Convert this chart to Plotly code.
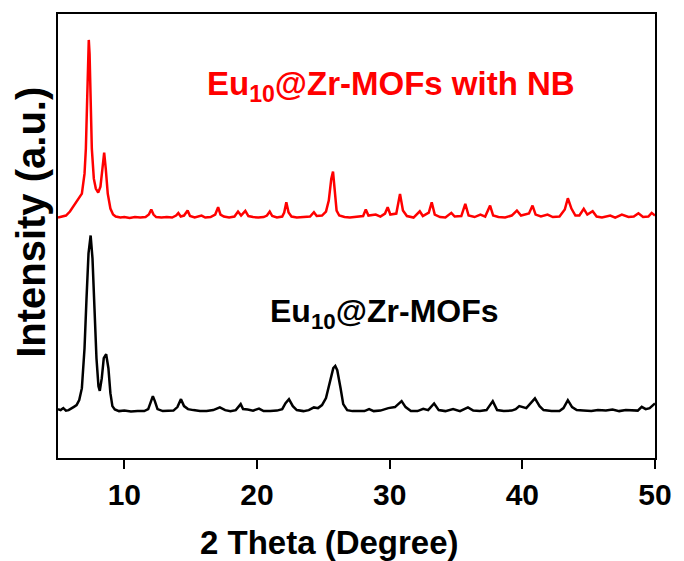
import plotly.graph_objects as go

# ---- data: Eu10@Zr-MOFs with NB (red, offset pattern) ----
red_2theta = [5.0, 5.3, 5.6, 5.9, 6.2, 6.5, 6.8, 7.0, 7.1, 7.2, 7.27, 7.32, 7.38, 7.45, 7.55, 7.7, 7.85, 8.03, 8.2, 8.35, 8.48, 8.6,
              8.75, 8.95, 9.15, 9.35, 9.7, 10.0, 10.4, 10.8, 11.2, 11.6, 11.85, 12.03, 12.2, 12.4, 12.8, 13.2, 13.6, 13.9, 14.07, 14.25,
              14.5, 14.77, 14.95, 15.3, 15.82, 16.1, 16.5, 16.85, 17.07, 17.25, 17.5, 17.9, 18.3, 18.57, 18.8, 19.12, 19.35, 19.7, 20.1, 20.5,
              20.75, 20.96, 21.15, 21.5, 21.9, 22.05, 22.21, 22.38, 22.6, 23.0, 23.5, 24.0, 24.29, 24.5, 24.9, 25.2, 25.41, 25.6, 25.73, 25.85,
              26.0, 26.2, 26.6, 27.0, 27.5, 28.0, 28.2, 28.4, 28.95, 29.3, 29.65, 29.85, 30.05, 30.5, 30.78, 31.0, 31.3, 31.8, 32.27, 32.5,
              32.95, 33.17, 33.4, 33.8, 34.2, 34.65, 34.9, 35.4, 35.7, 35.95, 36.4, 36.84, 37.2, 37.57, 37.8, 38.2, 38.7, 39.2, 39.59, 39.9,
              40.5, 40.77, 41.0, 41.4, 41.9, 42.3, 42.8, 43.2, 43.43, 43.7, 44.0, 44.3, 44.63, 44.9, 45.3, 45.6, 46.0, 46.63, 47.0, 47.5,
              48.0, 48.4, 48.75, 49.1, 49.5, 49.75, 50.0]
red_intensity = [2410, 2420, 2430, 2470, 2530, 2590, 2650, 2850, 3100, 3600, 4050, 4190, 4050, 3600, 3100, 2800, 2700, 2660, 2720, 2900, 3060, 2900,
                 2650, 2500, 2440, 2420, 2410, 2415, 2405, 2415, 2410, 2415, 2440, 2490, 2440, 2415, 2410, 2415, 2410, 2430, 2455, 2420,
                 2430, 2480, 2425, 2410, 2430, 2410, 2415, 2440, 2513, 2440, 2420, 2410, 2420, 2470, 2430, 2477, 2425, 2415, 2410, 2415,
                 2430, 2470, 2425, 2410, 2420, 2460, 2563, 2460, 2420, 2410, 2415, 2420, 2463, 2425, 2430, 2470, 2580, 2800, 2870, 2700,
                 2480, 2430, 2415, 2410, 2420, 2425, 2490, 2430, 2440, 2420, 2450, 2513, 2440, 2450, 2647, 2480, 2425, 2410, 2473, 2425,
                 2460, 2563, 2440, 2415, 2410, 2457, 2420, 2425, 2547, 2430, 2415, 2440, 2420, 2530, 2430, 2415, 2410, 2430, 2480, 2430,
                 2450, 2530, 2440, 2420, 2440, 2415, 2420, 2490, 2603, 2500, 2430, 2430, 2497, 2440, 2473, 2420, 2410, 2430, 2410, 2440,
                 2415, 2420, 2453, 2415, 2420, 2457, 2430]

# ---- data: Eu10@Zr-MOFs (black) ----
black_2theta = [5.0, 5.2, 5.4, 5.6, 5.8, 6.0, 6.2, 6.4, 6.6, 6.8, 7.0, 7.15, 7.3, 7.46, 7.6, 7.75, 7.9, 8.05, 8.15, 8.3,
                8.45, 8.63, 8.8, 8.95, 9.1, 9.28, 9.6, 10.0, 10.5, 11.0, 11.5, 11.8, 12.0, 12.15, 12.3, 12.5, 12.9, 13.3, 13.7, 14.0,
                14.27, 14.5, 14.8, 15.2, 15.7, 16.2, 16.7, 17.2, 17.6, 18.0, 18.4, 18.77, 18.95, 19.3, 19.7, 20.15, 20.5, 21.0, 21.5, 21.9,
                22.15, 22.41, 22.7, 23.0, 23.5, 23.9, 24.29, 24.6, 24.9, 25.2, 25.5, 25.75, 25.9, 26.05, 26.3, 26.5, 26.8, 27.2, 27.7, 28.1,
                28.45, 28.8, 29.3, 29.9, 30.4, 30.9, 31.2, 31.6, 32.1, 32.53, 32.9, 33.35, 33.7, 34.2, 34.78, 35.3, 35.9, 36.3, 36.8, 37.3,
                37.77, 38.1, 38.6, 39.2, 39.5, 39.77, 40.3, 40.6, 40.95, 41.3, 41.6, 42.2, 42.8, 43.1, 43.43, 43.75, 44.1, 44.6, 45.2, 45.7,
                46.3, 46.8, 47.3, 47.8, 48.3, 48.7, 49.0, 49.3, 49.6, 50.0]
black_intensity = [490, 480, 500, 475, 480, 500, 513, 530, 580, 700, 1100, 1600, 2050, 2230, 2000, 1500, 1000, 720, 673, 800,
                   1000, 1040, 900, 650, 520, 487, 470, 475, 465, 470, 470, 490, 560, 620, 570, 490, 470, 470, 475, 510,
                   590, 520, 490, 480, 470, 470, 480, 507, 480, 470, 480, 540, 490, 485, 475, 495, 470, 470, 475, 490,
                   550, 590, 520, 480, 470, 480, 507, 500, 530, 600, 750, 900, 923, 880, 700, 540, 480, 470, 470, 470,
                   490, 470, 475, 500, 510, 570, 510, 470, 470, 493, 480, 547, 480, 470, 490, 470, 507, 475, 470, 480,
                   570, 480, 470, 475, 490, 520, 500, 540, 597, 520, 480, 470, 470, 500, 580, 510, 480, 475, 470, 480,
                   475, 485, 470, 480, 475, 475, 513, 490, 500, 547]

x_ticks = [10, 20, 30, 40, 50]
series_labels = ["Eu<sub>10</sub>@Zr-MOFs with NB", "Eu<sub>10</sub>@Zr-MOFs"]

FONT = "Liberation Sans, Arial, sans-serif"

fig = go.Figure()
fig.add_trace(go.Scatter(x=red_2theta, y=red_intensity, mode="lines",
                         line=dict(color="#ff0000", width=2.5), showlegend=False))
fig.add_trace(go.Scatter(x=black_2theta, y=black_intensity, mode="lines",
                         line=dict(color="#000000", width=2.5), showlegend=False))

fig.add_annotation(x=16.1, y=3730, xref="x", yref="y", text=series_labels[0],
                   showarrow=False, xanchor="left", yanchor="middle",
                   font=dict(family=FONT, size=33, color="#ff0000", weight="bold"))
fig.add_annotation(x=20.8, y=1450, xref="x", yref="y", text=series_labels[1],
                   showarrow=False, xanchor="left", yanchor="middle",
                   font=dict(family=FONT, size=32, color="#000000", weight="bold"))

# axis titles
fig.add_annotation(x=(333 - 58) / 604, y=-(543 - 458) / 445, xref="paper", yref="paper",
                   text="2 Theta (Degree)", showarrow=False, xanchor="center", yanchor="middle",
                   font=dict(family=FONT, size=33, color="#000000", weight="bold"))
fig.add_annotation(x=-(58 - 30) / 604, y=(458 - 222) / 445, xref="paper", yref="paper",
                   text="Intensity (a.u.)", showarrow=False, textangle=-90, xanchor="center", yanchor="middle",
                   font=dict(family=FONT, size=40, color="#000000", weight="bold"))

fig.update_layout(
    width=684, height=561,
    margin=dict(l=58, r=22, t=13, b=103),
    paper_bgcolor="white", plot_bgcolor="white",
    xaxis=dict(range=[5, 50], tickvals=x_ticks, ticks="outside", ticklen=9, tickwidth=2,
               tickcolor="black", showline=True, linewidth=2, linecolor="black", mirror=True,
               showgrid=False, zeroline=False,
               tickfont=dict(family=FONT, size=30, color="black", weight="bold")),
    yaxis=dict(range=[0, 4450], showticklabels=False, ticks="", showline=True, linewidth=2,
               linecolor="black", mirror=True, showgrid=False, zeroline=False),
)

fig.write_html("out.html")
